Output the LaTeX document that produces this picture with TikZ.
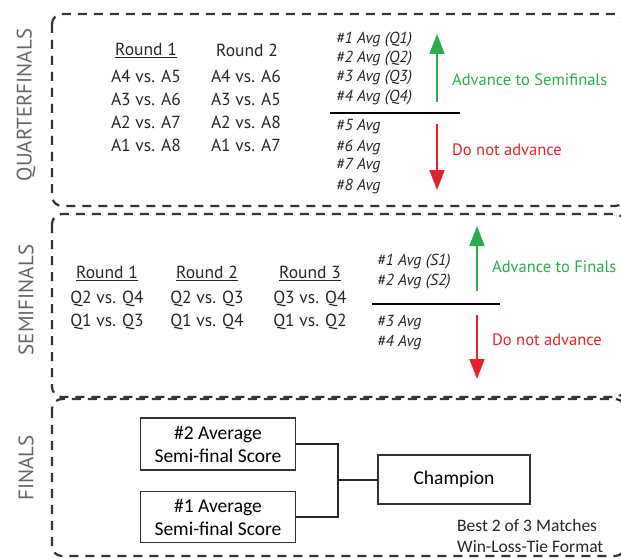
\documentclass[tikz,border=0pt]{standalone}
\usepackage{fontspec}
\setmainfont{PT Sans}
\newfontfamily\calfont{Carlito}
\usetikzlibrary{arrows.meta}
\definecolor{advgreen}{HTML}{2EAA4F}
\definecolor{advred}{HTML}{E3232C}
\definecolor{framegray}{HTML}{333333}
\definecolor{labelgray}{HTML}{666666}
\tikzset{
  sectionbox/.style={draw=framegray, line width=2.2pt, dash pattern=on 9pt off 7pt, rounded corners=10pt},
  sectionlabel/.style={rotate=90, text=labelgray, font=\fontsize{21}{24}\selectfont},
  roundhead/.style={font=\fontsize{17.5}{20}\selectfont, text=black!85, inner sep=0pt},
  game/.style={font=\fontsize{17.5}{20}\selectfont, text=black!85, inner sep=0pt},
  rank/.style={font=\itshape\fontsize{16}{18}\selectfont, text=black!85, inner sep=0pt, anchor=west},
  cutline/.style={draw=black, line width=2.6pt},
  uparrow/.style={draw=advgreen, line width=2pt, -{Triangle[width=15pt,length=20pt]}},
  downarrow/.style={draw=advred, line width=2pt, -{Triangle[width=15pt,length=20pt]}},
  advtext/.style={font=\fontsize{16.5}{19}\selectfont, text=advgreen, anchor=west, inner sep=0pt},
  notext/.style={font=\fontsize{16.5}{19}\selectfont, text=advred, anchor=west, inner sep=0pt},
  finalbox/.style={draw=black!80, line width=1.8pt, align=center, font=\calfont\fontsize{19.5}{23}\selectfont, inner sep=0pt},
  bracket/.style={draw=black!85, line width=2pt},
}
\begin{document}
\begin{tikzpicture}[x=1pt,y=-1pt]
\useasboundingbox (0,0) rectangle (621,559);
\clip (0,0) rectangle (621,559);

% section frames
\draw[sectionbox] (52,14) rectangle (625,206);
\draw[sectionbox] (52,214) rectangle (625,397);
\draw[sectionbox] (52,399) rectangle (625,556);

% section labels
\node[sectionlabel] (lqf) at (26,105) {QUARTERFINALS};
\node[sectionlabel] (lsf) at (26,300) {SEMIFINALS};
\node[sectionlabel] (lfi) at (26,468) {FINALS};

% ---------------- Quarterfinals ----------------
\node[roundhead] (q-r1) at (146,50) {\underline{Round 1}};
\node[roundhead] (q-r2) at (247,50) {Round 2};
\node[game] (q11) at (146,76) {A4 vs. A5};
\node[game] (q12) at (146,99) {A3 vs. A6};
\node[game] (q13) at (146,122) {A2 vs. A7};
\node[game] (q14) at (146,145) {A1 vs. A8};
\node[game] (q21) at (246,76) {A4 vs. A6};
\node[game] (q22) at (246,99) {A3 vs. A5};
\node[game] (q23) at (246,122) {A2 vs. A8};
\node[game] (q24) at (246,145) {A1 vs. A7};

\node[rank] (qa1) at (336,40) {\#1 Avg (Q1)};
\node[rank] (qa2) at (336,59) {\#2 Avg (Q2)};
\node[rank] (qa3) at (336,78) {\#3 Avg (Q3)};
\node[rank] (qa4) at (336,98) {\#4 Avg (Q4)};
\node[rank] (qa5) at (336,127) {\#5 Avg};
\node[rank] (qa6) at (336,147) {\#6 Avg};
\node[rank] (qa7) at (336,166) {\#7 Avg};
\node[rank] (qa8) at (336,186) {\#8 Avg};

\coordinate (qcutL) at (330,113);
\coordinate (qcutR) at (460,113);
\draw[cutline] (qcutL) -- (qcutR);

\coordinate (qupS) at (437,102);
\coordinate (qupE) at (437,34);
\coordinate (qdnS) at (437,124);
\coordinate (qdnE) at (437,190);
\draw[uparrow] (qupS) -- (qupE);
\draw[downarrow] (qdnS) -- (qdnE);
\node[advtext] (qadv) at (452,80) {Advance to Semifinals};
\node[notext] (qno) at (452,150) {Do not advance};

% ---------------- Semifinals ----------------
\node[roundhead] (s-r1) at (107,273) {\underline{Round 1}};
\node[roundhead] (s-r2) at (207,273) {\underline{Round 2}};
\node[roundhead] (s-r3) at (310,273) {\underline{Round 3}};
\node[game] (s11) at (107,299) {Q2 vs. Q4};
\node[game] (s12) at (107,322) {Q1 vs. Q3};
\node[game] (s21) at (207,299) {Q2 vs. Q3};
\node[game] (s22) at (207,322) {Q1 vs. Q4};
\node[game] (s31) at (310,299) {Q3 vs. Q4};
\node[game] (s32) at (310,322) {Q1 vs. Q2};

\node[rank] (sa1) at (377,262) {\#1 Avg (S1)};
\node[rank] (sa2) at (377,282) {\#2 Avg (S2)};
\node[rank] (sa3) at (377,323) {\#3 Avg};
\node[rank] (sa4) at (377,343) {\#4 Avg};

\coordinate (scutL) at (372,304);
\coordinate (scutR) at (500,304);
\draw[cutline] (scutL) -- (scutR);

\coordinate (supS) at (477,291);
\coordinate (supE) at (477,226);
\coordinate (sdnS) at (477,315);
\coordinate (sdnE) at (477,379);
\draw[uparrow] (supS) -- (supE);
\draw[downarrow] (sdnS) -- (sdnE);
\node[advtext] (sadv) at (492,267) {Advance to Finals};
\node[notext] (sno) at (492,340) {Do not advance};

% ---------------- Finals ----------------
\node[finalbox, minimum width=155pt, minimum height=52pt] (f2) at (218,444) {\#2 Average\\Semi-final Score};
\node[finalbox, minimum width=155pt, minimum height=51pt] (f1) at (218,517) {\#1 Average\\Semi-final Score};
\node[finalbox, minimum width=152pt, minimum height=49pt] (champ) at (454,479.5) {Champion};
\coordinate (join) at (338,479.5);
\draw[bracket] (f2.east) -| (join) |- (f1.east);
\draw[bracket] (join) -- (champ.west);
\node[font=\calfont\fontsize{17.5}{21}\selectfont, align=left, anchor=north west, inner sep=0pt, text=black!85] (fmt) at (457,519) {Best 2 of 3 Matches\\Win-Loss-Tie Format};
\end{tikzpicture}
\end{document}
